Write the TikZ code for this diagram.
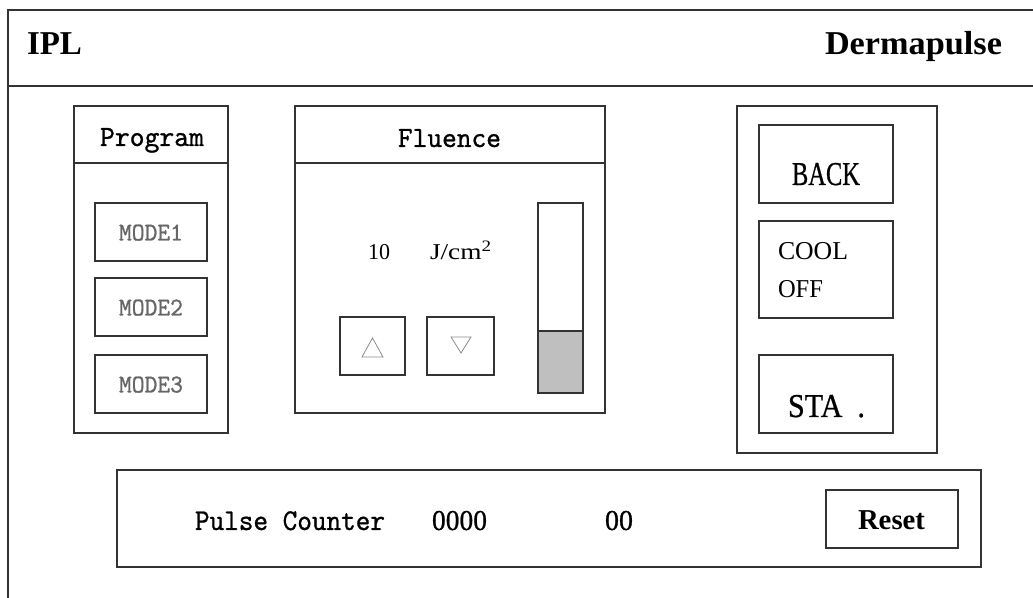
\documentclass[tikz,border=0pt]{standalone}
\usepackage{fontspec}
\setmainfont{Liberation Serif}
\newfontfamily\monof[FakeBold=0.9]{lmmono10-regular.otf}
\newfontfamily\serifb[FakeBold=0.8]{Liberation Serif}
\newcommand\ftxt[4]{\resizebox{#3pt}{\height}{#1\fontsize{#2pt}{#2pt}\selectfont #4}}
\tikzset{
  frame/.style={draw=black!80, line width=1.1pt},
  boxline/.style={draw=black!80, line width=1pt},
  lbl/.style={anchor=base west, inner sep=0pt, outer sep=0pt},
  tri/.style={draw=black!45, line width=0.6pt, line join=miter},
}
\begin{document}
\begin{tikzpicture}[x=0.75pt, y=-0.75pt]
\useasboundingbox (0,0) rectangle (1033,598);
% outer frame and header
\draw[frame] (1040,10) -- (8,10) -- (8,605);
\draw[frame] (8,86) -- (1040,86);
\node[lbl] (ipl) at (27,55) {\ftxt{\bfseries}{25}{41.25}{IPL}};
\node[lbl] (derma) at (825,55) {\ftxt{\bfseries}{25}{132.75}{Dermapulse}};
% Program panel
\draw[boxline] (74,106) rectangle (228,433);
\draw[boxline] (74,163) -- (228,163);
\node[lbl] (prog) at (100,146) {\ftxt{\monof}{22}{78}{Program}};
\draw[boxline] (95,203) rectangle (207,261);
\draw[boxline] (95,278) rectangle (207,336);
\draw[boxline] (95,355) rectangle (207,413);
\node[lbl, text=black!60] (m1) at (119,240.5) {\ftxt{\monof}{19.3}{48}{MODE1}};
\node[lbl, text=black!60] (m2) at (119,315.5) {\ftxt{\monof}{19.3}{48}{MODE2}};
\node[lbl, text=black!60] (m3) at (119,392.5) {\ftxt{\monof}{19.3}{48}{MODE3}};
% Fluence panel
\draw[boxline] (295,106) rectangle (605,413);
\draw[boxline] (295,163) -- (605,163);
\node[lbl] (flu) at (398,147) {\ftxt{\monof}{22}{77.25}{Fluence}};
\node[lbl] (val) at (368,260) {\ftxt{}{17}{16.5}{10}};
\node[lbl] (unit) at (430,260) {\ftxt{}{17}{46.5}{J/cm\textsuperscript{2}}};
\draw[boxline] (340,317) rectangle (405,375);
\draw[boxline] (427,317) rectangle (494,375);
\draw[tri] (362,357) -- (383,357) -- (372.5,338) -- cycle;
\draw[tri] (451,337) -- (471,337) -- (461,353) -- cycle;
\fill[black!25] (538,331) rectangle (583,393);
\draw[boxline] (538,203) rectangle (583,393);
\draw[boxline] (538,331) -- (583,331);
% right panel
\draw[boxline] (737,106) rectangle (937,453);
\draw[boxline] (759,125) rectangle (893,203);
\draw[boxline] (759,221) rectangle (893,318);
\draw[boxline] (759,355) rectangle (893,433);
\node[lbl] (back) at (792,185) {\ftxt{\serifb}{25}{51}{BACK}};
\node[lbl] (cool) at (778,260) {\ftxt{}{19.3}{52.5}{COOL}};
\node[lbl] (off) at (778,298) {\ftxt{}{19.3}{33.75}{OFF}};
\node[lbl] (sta) at (788,417) {\ftxt{\serifb}{25}{57.75}{STA\ \ .}};
% pulse counter
\draw[boxline] (117,470) rectangle (981,567);
\node[lbl] (pc) at (195,530) {\ftxt{\monof}{22.7}{142.5}{Pulse Counter}};
\node[lbl] (cnt) at (432,530) {\ftxt{\serifb}{21.6}{41.25}{0000}};
\node[lbl] (cnt2) at (605,530) {\ftxt{\serifb}{21.6}{21}{00}};
\draw[boxline] (826,490) rectangle (958,548);
\node[lbl] (reset) at (858,530) {\ftxt{\bfseries}{21.6}{50.25}{Reset}};
\end{tikzpicture}
\end{document}
